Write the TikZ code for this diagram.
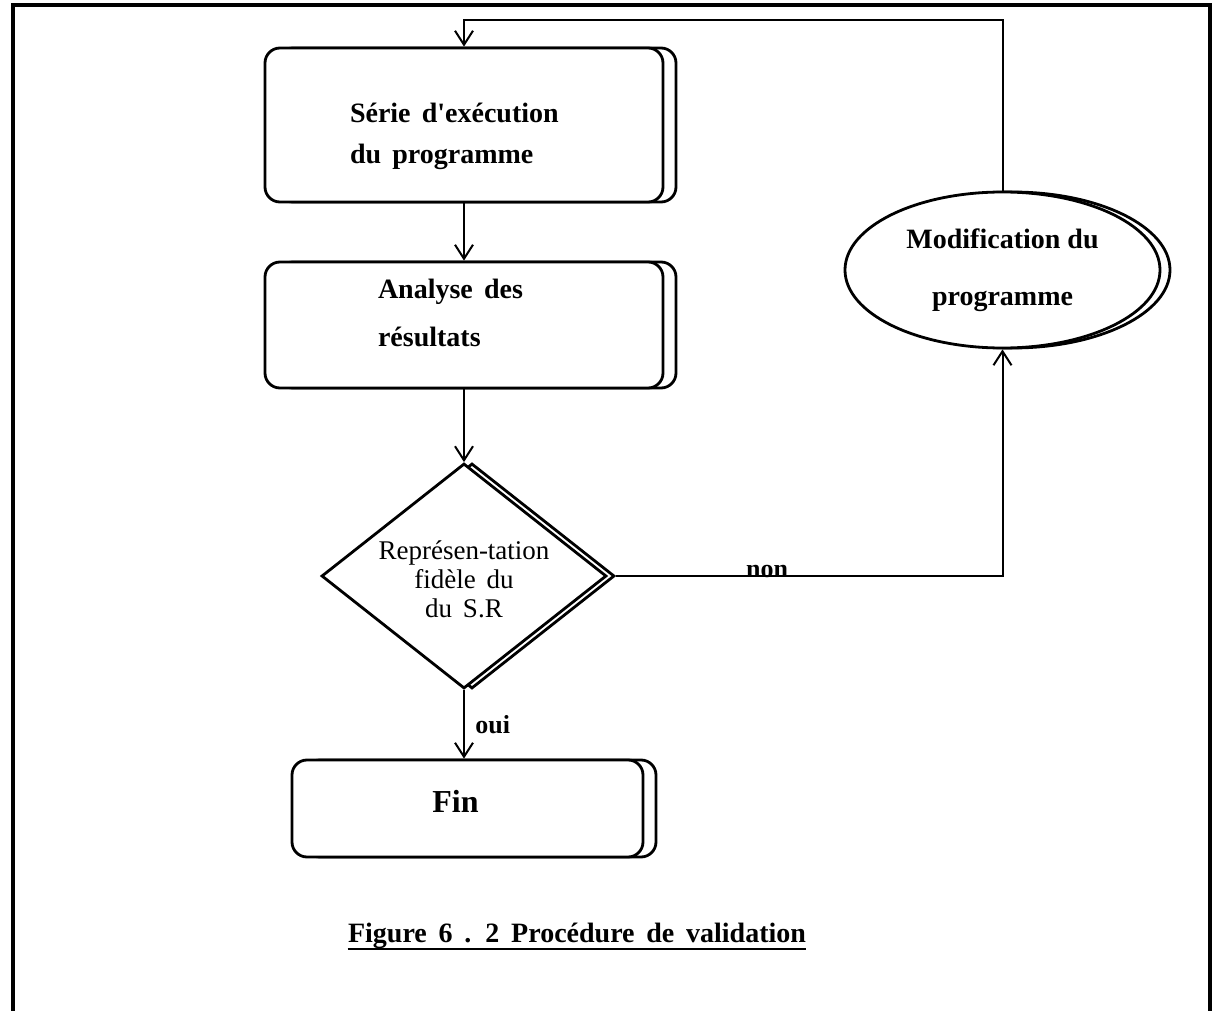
\documentclass[tikz,border=0pt]{standalone}
\usepackage{fontspec}
\setmainfont{Liberation Serif}[Ligatures=TeXOff]
\usetikzlibrary{shapes.geometric,arrows.meta}

\begin{document}
\begin{tikzpicture}[x=0.5pt,y=-0.5pt,
  % rounded process box with a right-hand offset outline
  box/.style={draw, line width=1.4pt, rounded corners=7.5pt, fill=white,
    preaction={draw, line width=1.4pt, transform canvas={xshift=6.5pt}}},
  % decision diamond with offset outline
  decision/.style={diamond, draw, line width=1.4pt, fill=white, inner sep=0pt,
    minimum width=142.5pt, minimum height=112.5pt,
    preaction={draw, line width=1.4pt, transform canvas={xshift=4pt}}},
  % oval with offset outline
  oval/.style={ellipse, draw, line width=1.4pt, fill=white, inner sep=0pt,
    minimum width=157.5pt, minimum height=78pt, align=center,
    font=\fontsize{14}{28.5}\selectfont\bfseries,
    preaction={draw, line width=1.4pt, transform canvas={xshift=5pt}}},
  conn/.style={line width=1pt},
  arr/.style={conn, -{Straight Barb[length=7pt, width=9pt]}},
  tag/.style={font=\fontsize{13}{15}\selectfont\bfseries, inner sep=0pt},
]
\useasboundingbox (0,0) rectangle (1217,1011);

% outer frame (open at the bottom)
\draw[line width=2pt] (13,1011) -- (13,5) -- (1210,5) -- (1210,1011);

% process boxes
\node[box, minimum width=199pt, minimum height=77pt,
  label={[align=left, text width=114pt, yshift=-5.5pt,
          font=\fontsize{14}{20.5}\selectfont\bfseries]center:\spaceskip=0.4em\relax Série d'exécution\\du programme}]
  (serie) at (464,125) {};

\node[box, minimum width=199pt, minimum height=63pt,
  label={[align=left, text width=86pt, yshift=6pt,
          font=\fontsize{14}{24}\selectfont\bfseries]center:\spaceskip=0.4em\relax Analyse des\\résultats}]
  (analyse) at (464,325) {};

\node[decision,
  label={[align=center, yshift=-1.5pt, font=\fontsize{13.5}{14.5}\selectfont]center:Représen-tation\\\spaceskip=0.4em\relax fidèle du\\\spaceskip=0.4em\relax du S.R}]
  (dec) at (464,576) {};

\node[box, minimum width=175.5pt, minimum height=48.5pt,
  label={[xshift=-6pt, yshift=3.5pt, font=\fontsize{16}{19}\selectfont\bfseries]center:Fin}]
  (fin) at (467.5,808.5) {};

\node[oval] (modif) at (1002.5,270) {Modification du\\programme};

% connectors
\draw[arr] (serie.south) -- (analyse.north);
\draw[arr] (analyse.south) -- (dec.north);
\draw[arr] (dec.south) -- (dec.south |- fin.north);
\draw[arr] ([xshift=4pt]dec.east) -| (modif.south);
\draw[arr] (modif.north) |- ([yshift=13.5pt]serie.north) -- (serie.north);

% branch labels
\node[tag, anchor=base] (non) at (767,577) {non};
\node[tag, anchor=base west] (oui) at (475,733) {oui};

% caption
\node[inner sep=0pt, anchor=base, font=\fontsize{14}{17}\selectfont\bfseries]
  (cap) at (577,942) {\spaceskip=0.42em\relax Figure 6 . 2 Procédure de validation};
\draw[line width=1.3pt] ([yshift=-3.5pt]cap.base west) -- ([yshift=-3.5pt]cap.base east);
\end{tikzpicture}
\end{document}
